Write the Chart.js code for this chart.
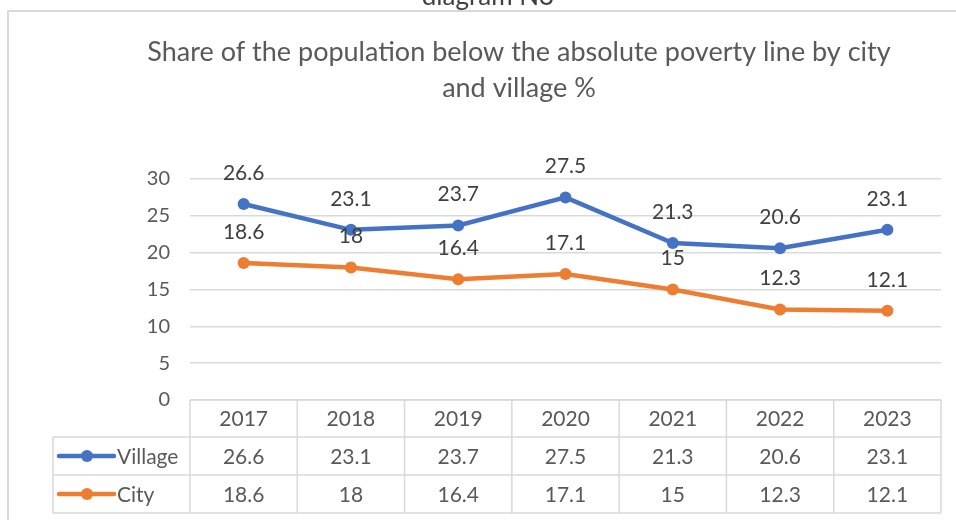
<!DOCTYPE html>
<html>
<head>
<meta charset="utf-8">
<script src="https://cdn.jsdelivr.net/npm/chart.js@4.4.1/dist/chart.umd.min.js"></script>
<style>
  html, body { margin: 0; padding: 0; background: #ffffff; }
  #wrap { width: 956px; height: 520px; position: relative; }
</style>
</head>
<body>
<div id="wrap"><canvas id="c" width="956" height="520"></canvas></div>
<script>
// ---- data ----
const years = ['2017', '2018', '2019', '2020', '2021', '2022', '2023'];
const village = [26.6, 23.1, 23.7, 27.5, 21.3, 20.6, 23.1];
const city = [18.6, 18, 16.4, 17.1, 15, 12.3, 12.1];
const seriesNames = ['Village', 'City'];
const titleLines = ['Share of the population below the absolute poverty line by city', 'and village %'];
const captionText = 'diagram N3';
const yMin = 0, yMax = 30, yStep = 5;

const FONT = 'Lato, "Open Sans", sans-serif';
const BLUE = '#4472C4';
const ORANGE = '#ED7D31';
const GRID = '#d9d9d9';
const TEXT = '#595959';
const LABEL = '#404040';

const decorPlugin = {
  id: 'decor',
  beforeDraw(chart) {
    const ctx = chart.ctx;
    ctx.save();
    ctx.fillStyle = '#ffffff';
    ctx.fillRect(0, 0, chart.width, chart.height);
    // outer chart border
    ctx.strokeStyle = GRID;
    ctx.lineWidth = 2;
    ctx.strokeRect(8, 11, 980, 540);
    // caption above (cropped)
    ctx.fillStyle = LABEL;
    ctx.font = '26px ' + FONT;
    ctx.textAlign = 'center';
    ctx.textBaseline = 'alphabetic';
    ctx.fillText(captionText, 488, 5);
    // title
    ctx.fillStyle = TEXT;
    ctx.font = '27px ' + FONT;
    ctx.textBaseline = 'middle';
    ctx.fillText(titleLines[0], 519, 52);
    ctx.fillText(titleLines[1], 519, 88);
    ctx.restore();
  },
  afterDatasetsDraw(chart) {
    const ctx = chart.ctx;
    ctx.save();
    ctx.font = '21px ' + FONT;
    ctx.fillStyle = LABEL;
    ctx.textAlign = 'center';
    ctx.textBaseline = 'middle';
    chart.data.datasets.forEach((ds, di) => {
      const meta = chart.getDatasetMeta(di);
      meta.data.forEach((pt, i) => {
        ctx.fillText(String(ds.data[i]), pt.x, pt.y - 31);
      });
    });
    ctx.restore();
  },
  afterDraw(chart) {
    const ctx = chart.ctx;
    const xs = chart.scales.x;
    const area = chart.chartArea;
    const n = years.length;
    const step = (area.right - area.left) / n;
    const top = area.bottom;
    const rowH = [37, 38, 38];
    const y1 = top + rowH[0];
    const y2 = y1 + rowH[1];
    const y3 = y2 + rowH[2];
    const leftCol = 53;
    ctx.save();
    ctx.strokeStyle = GRID;
    ctx.lineWidth = 1.5;
    ctx.beginPath();
    ctx.moveTo(area.left, top); ctx.lineTo(area.right, top);
    [y1, y2, y3].forEach(y => { ctx.moveTo(leftCol, y); ctx.lineTo(area.right, y); });
    for (let i = 0; i <= n; i++) {
      const x = area.left + i * step;
      ctx.moveTo(x, top); ctx.lineTo(x, y3);
    }
    ctx.moveTo(leftCol, y1); ctx.lineTo(leftCol, y3);
    ctx.stroke();

    ctx.font = '21px ' + FONT;
    ctx.fillStyle = TEXT;
    ctx.textAlign = 'center';
    ctx.textBaseline = 'middle';
    const rows = [years, village, city];
    const centers = [(top + y1) / 2, (y1 + y2) / 2, (y2 + y3) / 2];
    rows.forEach((row, r) => {
      row.forEach((v, i) => {
        ctx.fillText(String(v), xs.getPixelForValue(i), centers[r] + 1);
      });
    });
    // legend keys
    const colors = [BLUE, ORANGE];
    seriesNames.forEach((name, k) => {
      const cy = centers[k + 1];
      ctx.strokeStyle = colors[k];
      ctx.lineWidth = 4.5;
      ctx.lineCap = 'round';
      ctx.beginPath();
      ctx.moveTo(59, cy); ctx.lineTo(114, cy);
      ctx.stroke();
      ctx.fillStyle = colors[k];
      ctx.beginPath();
      ctx.arc(87, cy, 6, 0, Math.PI * 2);
      ctx.fill();
      ctx.fillStyle = TEXT;
      ctx.textAlign = 'left';
      ctx.fillText(name, 117, cy + 1);
    });
    ctx.restore();
  }
};

new Chart(document.getElementById('c'), {
  type: 'line',
  data: {
    labels: years,
    datasets: [
      { label: seriesNames[0], data: village, borderColor: BLUE, backgroundColor: BLUE,
        borderWidth: 4.5, pointRadius: 6, pointHoverRadius: 6, pointBorderWidth: 0, tension: 0 },
      { label: seriesNames[1], data: city, borderColor: ORANGE, backgroundColor: ORANGE,
        borderWidth: 4.5, pointRadius: 6, pointHoverRadius: 6, pointBorderWidth: 0, tension: 0 }
    ]
  },
  options: {
    responsive: false,
    animation: false,
    devicePixelRatio: 1,
    layout: { padding: { top: 179, bottom: 120, left: 0, right: 15 } },
    plugins: { legend: { display: false }, title: { display: false }, tooltip: { enabled: false } },
    scales: {
      x: { display: false, offset: true },
      y: {
        min: yMin, max: yMax,
        ticks: { stepSize: yStep, color: TEXT, font: { family: FONT, size: 20 }, padding: 20 },
        grid: { color: GRID, lineWidth: 1.5, drawTicks: false },
        border: { display: false },
        afterFit(scale) { scale.width = 190; }
      }
    }
  },
  plugins: [decorPlugin]
});
</script>
</body>
</html>
